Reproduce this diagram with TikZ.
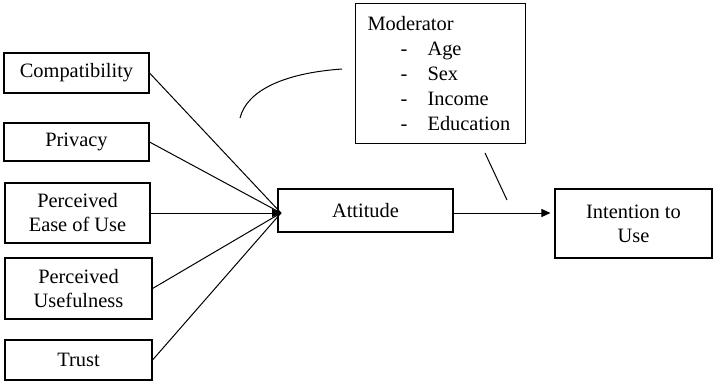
\documentclass[tikz,border=0pt]{standalone}
\usepackage{fontspec}
\setmainfont{Liberation Serif}
\newfontfamily\boxfont{Liberation Serif}
\usepackage{tikz}
\usetikzlibrary{arrows.meta}
\tikzstyle{Box}=[draw=black,rectangle,line width=1.1pt,inner sep=2pt,
align=center,font=\boxfont\fontsize{20.4}{24}\selectfont]
\tikzstyle{Edge}=[draw=black,line width=1pt]
\tikzstyle{Tip}=[-{Triangle[length=9pt,width=8pt]}]

\begin{document}
\begin{tikzpicture}[x=1pt,y=-1pt]
        \useasboundingbox(0,0)rectangle(713,383);
        \node[Box,minimum width=145,minimum height=40](0)at(76.5,73){Compatibility};
        \node[Box,minimum width=145,minimum height=38](1)at(76.5,142){Privacy};
        \node[Box,minimum width=145,minimum height=60](2)at(77.5,213){Perceived\\Ease of Use};
        \node[Box,minimum width=147,minimum height=61](3)at(78.5,288.5){Perceived\\Usefulness};
        \node[Box,minimum width=147,minimum height=40](4)at(78.5,360){Trust};
        \node[Box,minimum width=175,minimum height=43](5)at(365.5,210.5){Attitude};
        \node[Box,minimum width=157,minimum height=69](6)at(633.5,223.5){Intention to\\Use};
        \node[Box,anchor=north west,minimum height=140,text width=146pt,
            inner xsep=12pt,align=left,font=\boxfont\fontsize{20.4}{25}\selectfont](m)at(355,3){Moderator\\
            \hspace*{33pt}\makebox[27pt][l]{-}Age\\
            \hspace*{33pt}\makebox[27pt][l]{-}Sex\\
            \hspace*{33pt}\makebox[27pt][l]{-}Income\\
            \hspace*{33pt}\makebox[27pt][l]{-}Education};
        \coordinate(c)at(281,213);
        \draw[Edge](0.east)--(c);
        \draw[Edge](1.east)--(c);
        \draw[Edge,Tip](2.east)--(c);
        \draw[Edge](3.east)--(c);
        \draw[Edge](4.east)--(c);
        \draw[Edge,Tip,shorten >=4pt](5.east|-c)--(6.west|-c);
        % moderating effect
        \coordinate(m1)at(485,153);
        \coordinate(m2)at(507,200);
        \draw[Edge](m1)--(m2);
        \coordinate(a1)at(240,118);
        \coordinate(a2)at(342,69);
        \draw[Edge](a1)..controls(247,90)and(285,73)..(a2);
    \end{tikzpicture}
\end{document}
